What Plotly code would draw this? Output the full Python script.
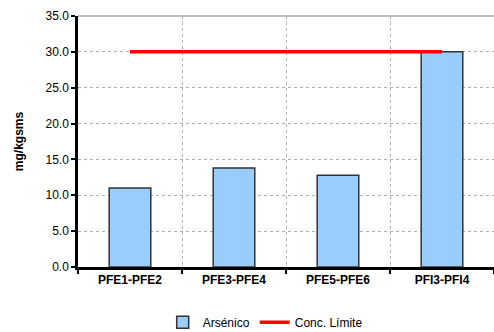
import plotly.graph_objects as go

# Sample pairs and measured arsenic concentration (mg/kgsms)
categories = ["PFE1-PFE2", "PFE3-PFE4", "PFE5-PFE6", "PFI3-PFI4"]
arsenico = [11.0, 13.8, 12.8, 30.0]
conc_limite = [30.0, 30.0, 30.0, 30.0]
y_ticks = [0, 5, 10, 15, 20, 25, 30, 35]

fig = go.Figure()
fig.add_trace(go.Bar(
    x=categories, y=arsenico, name="Arsénico",
    marker=dict(color="#99CCFF", line=dict(color="#333333", width=1.5)),
    width=0.4,
))
fig.add_trace(go.Scatter(
    x=categories, y=conc_limite, name="Conc. Límite", mode="lines",
    line=dict(color="#FF0000", width=3.5),
))

fig.update_layout(
    width=494, height=332,
    margin=dict(l=78, r=0, t=16, b=65, autoexpand=False),
    paper_bgcolor="white", plot_bgcolor="white",
    font=dict(family="Liberation Sans, Arial, sans-serif", size=11, color="#000000"),
    showlegend=True,
    legend=dict(orientation="h", x=0.45, xanchor="center", y=-0.22, yanchor="middle",
                font=dict(size=12), itemwidth=30, tracegroupgap=0),
    bargap=0.6,
    shapes=[dict(type="line", xref="paper", yref="paper", x0=0, x1=1, y0=1, y1=1,
                 line=dict(color="#A8A8A8", width=1.5))],
)
fig.update_xaxes(
    type="category", tickson="boundaries", ticks="outside", ticklen=4, tickwidth=2,
    tickcolor="#000000", showline=True, linecolor="#000000", linewidth=2.5,
    showgrid=True, gridcolor="#B0B0B0", griddash="dot", gridwidth=1,
    tickfont=dict(size=12, family="Liberation Sans, Arial, sans-serif", weight="bold"),
    range=[-0.5, 3.5],
)
fig.update_yaxes(
    range=[0, 35], tickvals=y_ticks, tickformat=".1f", ticks="outside", ticklen=4,
    tickwidth=2, tickcolor="#000000", showline=True, linecolor="#000000", linewidth=2.5,
    showgrid=True, gridcolor="#B0B0B0", griddash="dot", gridwidth=1, zeroline=False,
    title=dict(text="mg/kgsms", font=dict(size=12, weight="bold"), standoff=20),
    tickfont=dict(size=12),
)

fig.write_html("out.html")
